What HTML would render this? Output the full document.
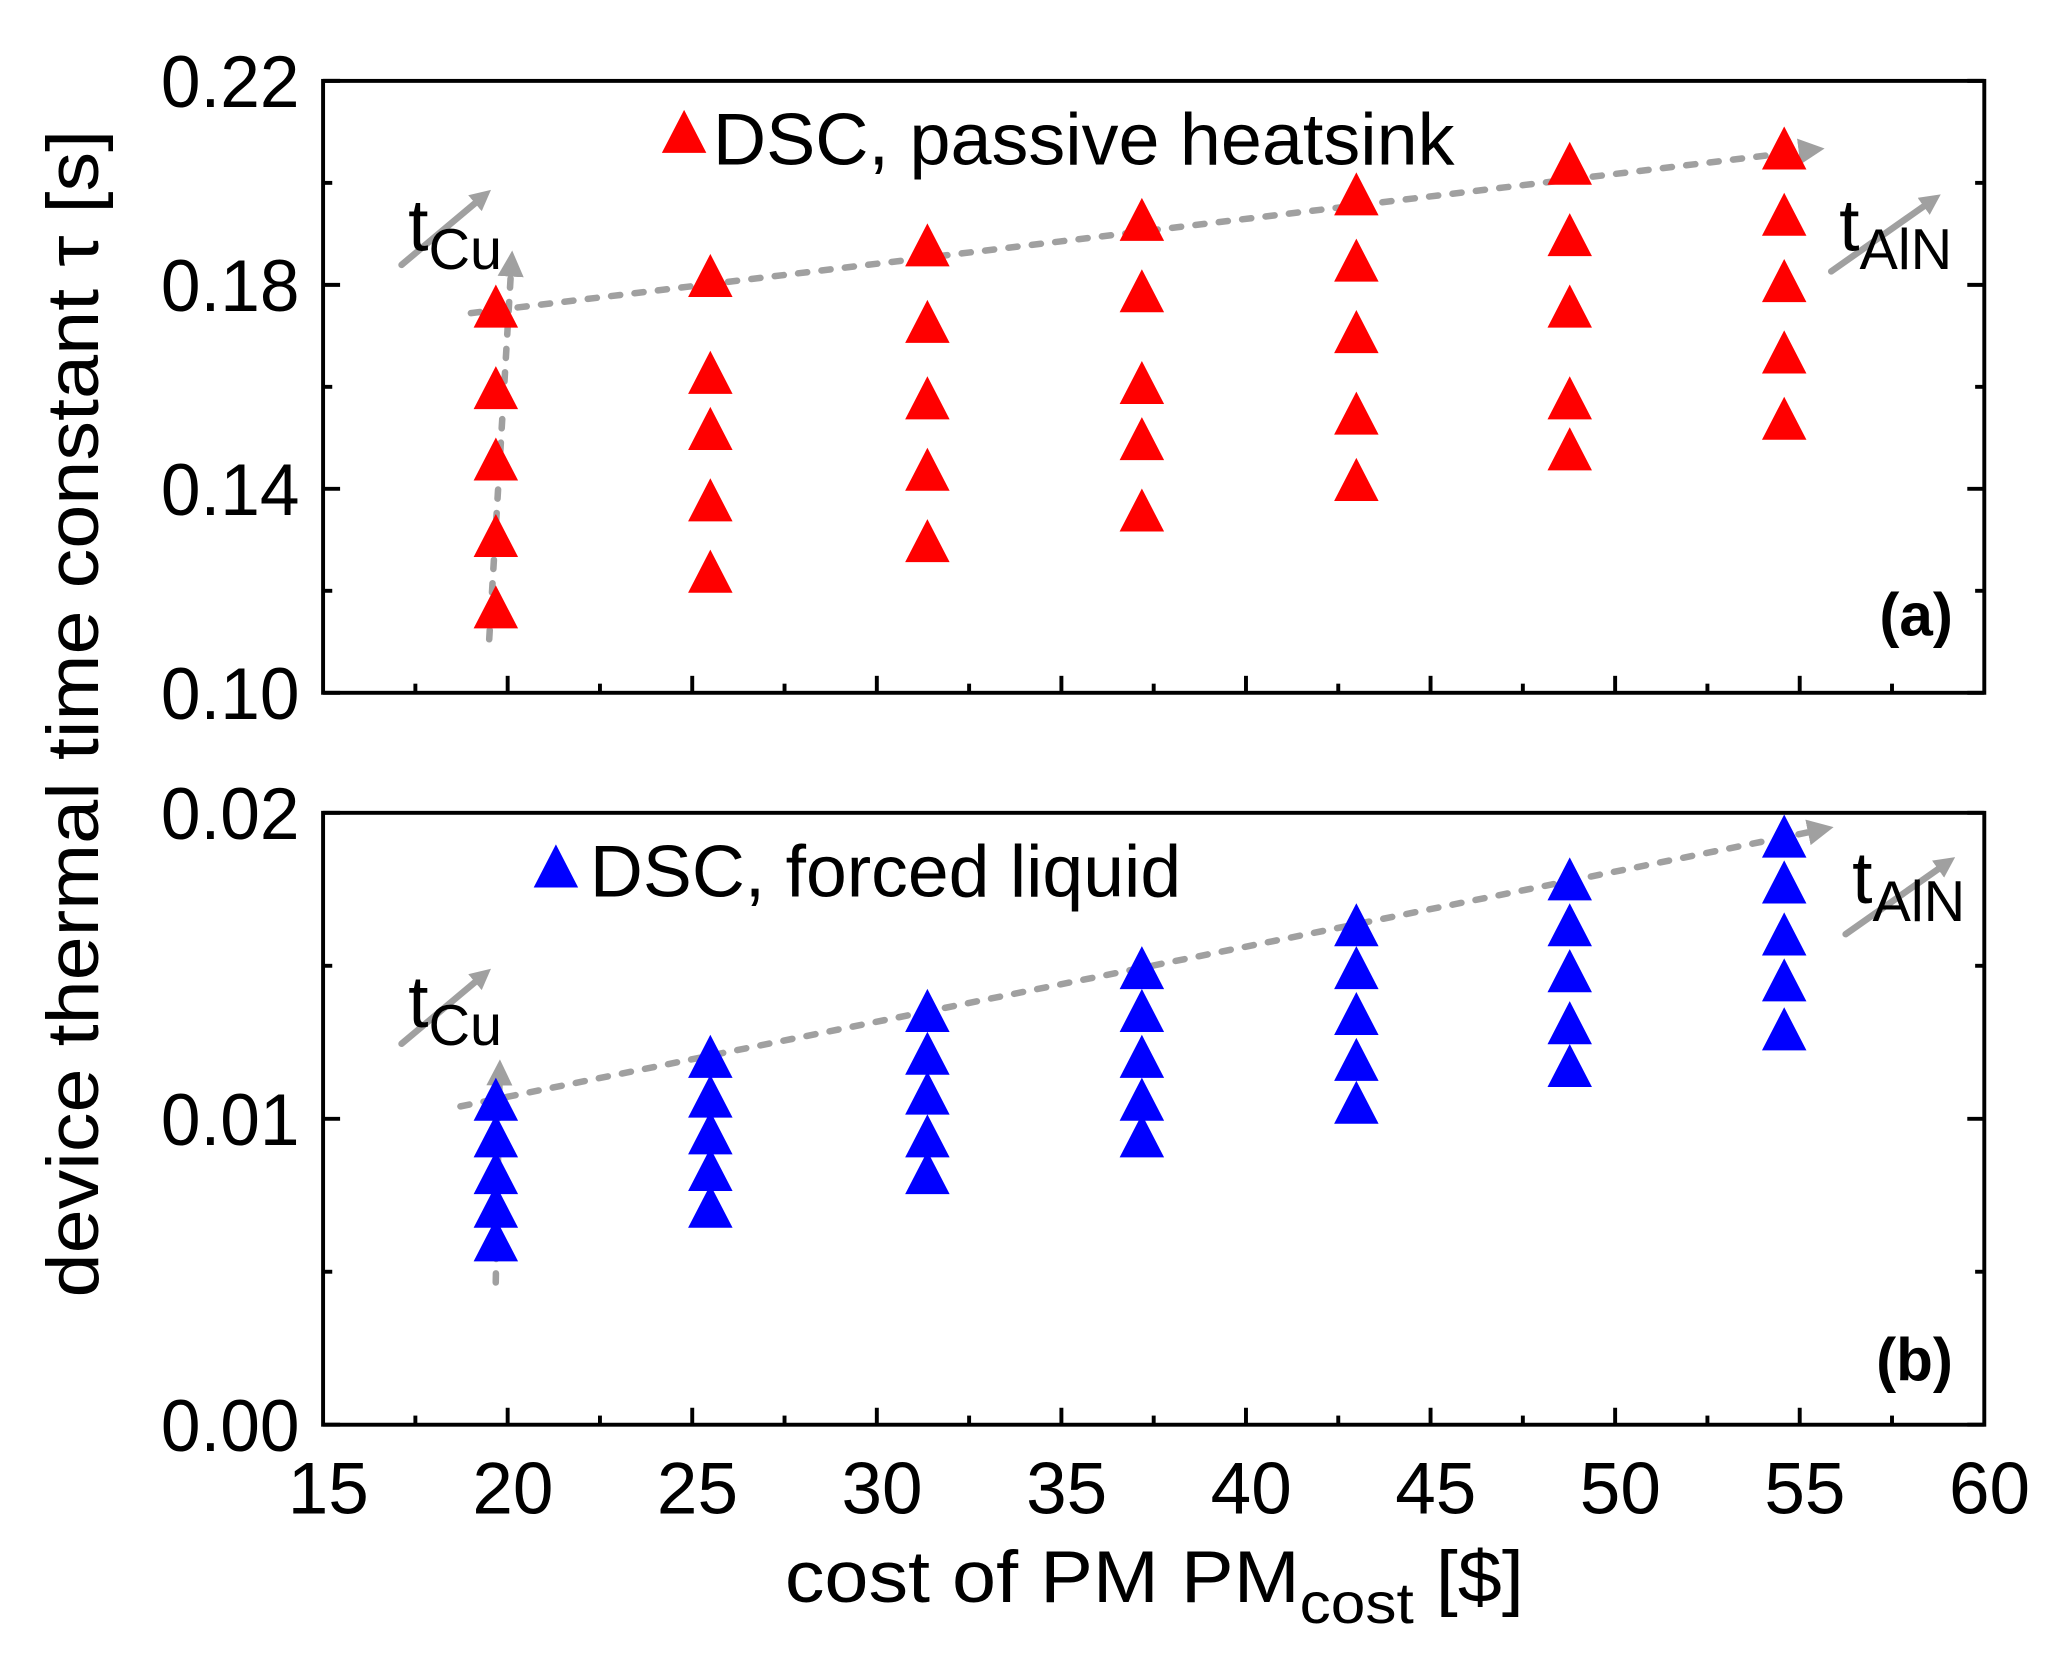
<!DOCTYPE html>
<html><head><meta charset="utf-8"><style>
html,body{margin:0;padding:0;background:#fff}
svg{display:block}
text{font-family:"Liberation Sans",sans-serif;fill:#000}
</style></head><body>
<svg id="chart" width="2051" height="1670" viewBox="0 0 1568 1280" preserveAspectRatio="none" xmlns="http://www.w3.org/2000/svg">
<defs>
<marker id="ah" markerWidth="4" markerHeight="4" refX="2" refY="2" orient="auto" markerUnits="strokeWidth"><path d="M0,0 L4,2 L0,4 z" fill="#a0a0a0"/></marker>
<marker id="ah2" markerWidth="3.2" markerHeight="3.2" refX="1.8" refY="1.6" orient="auto" markerUnits="strokeWidth"><path d="M0,0 L3.2,1.6 L0,3.2 z" fill="#a0a0a0"/></marker>
</defs>
<g id="root"></g>
</svg>
<script>
const xCols = [19.68, 25.49, 31.37, 37.18, 42.99, 48.77, 54.58];
const passiveVals = [
  [0.175,0.159,0.145,0.130,0.116],
  [0.181,0.162,0.151,0.137,0.123],
  [0.187,0.172,0.157,0.143,0.129],
  [0.192,0.178,0.160,0.149,0.135],
  [0.197,0.184,0.170,0.154,0.141],
  [0.203,0.189,0.175,0.157,0.147],
  [0.206,0.193,0.180,0.166,0.153]
];
const liquidVals = [
  [0.0105,0.0093,0.0081,0.0070,0.0059],
  [0.0119,0.0106,0.0094,0.0082,0.0070],
  [0.0134,0.0120,0.0107,0.0093,0.0081],
  [0.0148,0.0134,0.0119,0.0105,0.0093],
  [0.0162,0.0148,0.0133,0.0118,0.0104],
  [0.0177,0.0162,0.0147,0.0130,0.0116],
  [0.0191,0.0176,0.0159,0.0144,0.0128]
];
const xTicks = [15,20,25,30,35,40,45,50,55,60];
const yTicksTop = ["0.10","0.14","0.18","0.22"];
const yTicksBot = ["0.00","0.01","0.02"];

const NS="http://www.w3.org/2000/svg";
const root=document.getElementById('root');
const L=247,R=1517;
const sx=v=>L+(v-15)/45*(R-L);
const topT=62,topB=531,botT=623,botB=1092;
const syTop=v=>topB-(v-0.10)/0.12*(topB-topT);
const syBot=v=>botB-(v)/0.02*(botB-botT);
function mk(tag,attrs,parent){const e=document.createElementNS(NS,tag);for(const k in attrs)e.setAttribute(k,attrs[k]);(parent||root).appendChild(e);return e;}

function panel(name,T,B,sy,ticks,minors){
  const g=mk('g',{});
  
  
  const fr=mk('rect',{x:L,y:T,width:R-L,height:B-T,fill:'none',stroke:'#000','stroke-width':3},g);
  
  
  ticks.forEach(t=>{const y=sy(parseFloat(t));
    mk('line',{x1:L,x2:L+13,y1:y,y2:y,stroke:'#000','stroke-width':3},g);
    mk('line',{x1:R,x2:R-13,y1:y,y2:y,stroke:'#000','stroke-width':3},g);
    const tx=mk('text',{x:L-18,y:y+20,'text-anchor':'end','font-size':56,textLength:106,lengthAdjust:'spacingAndGlyphs'},g);
    tx.textContent=t;
    
    
  });
  minors.forEach(v=>{const y=sy(v);
    mk('line',{x1:L,x2:L+7,y1:y,y2:y,stroke:'#000','stroke-width':3},g);
    mk('line',{x1:R,x2:R-7,y1:y,y2:y,stroke:'#000','stroke-width':3},g);
  });
  for(let v=17.5;v<60;v+=2.5){const x=sx(v);const maj=(v%5===0);
    mk('line',{x1:x,x2:x,y1:B,y2:B-(maj?13:7),stroke:'#000','stroke-width':3},g);}
  return g;
}
panel('panel-a-passive',topT,topB,syTop,yTicksTop,[0.12,0.16,0.20]);
panel('panel-b-liquid',botT,botB,syBot,yTicksBot,[0.005,0.015]);
xTicks.forEach(t=>{const tx=mk('text',{x:sx(t)+4,y:1160,'text-anchor':'middle','font-size':56,textLength:62,lengthAdjust:'spacingAndGlyphs'});
  tx.textContent=t;
  
  });

function line(x1,y1,x2,y2,dash,name,w,mkr){const l=mk('line',{x1,y1,x2,y2,stroke:'#a0a0a0','stroke-width':w,'stroke-linecap':'round','marker-end':'url(#'+mkr+')'});
  if(dash)l.setAttribute('stroke-dasharray',dash);
  
  }
line(360,240,1385,115,'7 11','trend-arrow-a',5,'ah');
line(374,490,391,202,'7 11','cu-arrow-a',5,'ah');
line(352,848,1392,636,'7 11','trend-arrow-b',5,'ah');
line(379,983,382,822,'7 11','cu-arrow-b',5,'ah');
line(307,203,370,150,null,'tcu-arrow-a',5,'ah2');
line(1400,208,1478,153,null,'taln-arrow-a',5,'ah2');
line(307,800,370,747,null,'tcu-arrow-b',5,'ah2');
line(1411,716,1489,661,null,'taln-arrow-b',5,'ah2');

function tri(cx,cy,color,name){const h=33,w=34;
  const p=mk('polygon',{points:`${cx},${cy-h*0.6} ${cx-w/2},${cy+h*0.4} ${cx+w/2},${cy+h*0.4}`,fill:color});
  
  }
xCols.forEach((x,i)=>{passiveVals[i].forEach(v=>tri(sx(x),syTop(v),'#ff0000','passive-point'));
  liquidVals[i].forEach(v=>tri(sx(x),syBot(v),'#0000ff','liquid-point'));});

function txt(s,x,y,size,name,extra){const t=mk('text',Object.assign({x,y,'font-size':size},extra||{}));t.innerHTML=s;
  
  return t;}
tri(523,104,'#ff0000','legend-marker-passive');
txt('DSC, passive heatsink',545,126,56,'legend-passive',{textLength:567,lengthAdjust:'spacingAndGlyphs'});
tri(425,667,'#0000ff','legend-marker-liquid');
txt('DSC, forced liquid',451,687,56,'legend-liquid',{textLength:452,lengthAdjust:'spacingAndGlyphs'});
txt('t<tspan font-size="44" dy="14">Cu</tspan>',312,192,56,'tcu-label-a');
txt('t<tspan font-size="44" dy="14">AlN</tspan>',1406,192,56,'taln-label-a');
txt('t<tspan font-size="44" dy="14">Cu</tspan>',312,787,56,'tcu-label-b');
txt('t<tspan font-size="44" dy="14">AlN</tspan>',1416,692,56,'taln-label-b');
txt('(a)',1493,487,46,'panel-label-a',{'text-anchor':'end','font-weight':'bold'});
txt('(b)',1493,1058,46,'panel-label-b',{'text-anchor':'end','font-weight':'bold'});
txt('cost of PM PM<tspan font-size="44" dy="16">cost</tspan><tspan dy="-16"> [$]</tspan>',600,1228,56,'x-axis-title',{textLength:565,lengthAdjust:'spacingAndGlyphs'});
txt('device thermal time constant &#964; [s]',0,0,56,'y-axis-title',{'text-anchor':'middle',textLength:895,lengthAdjust:'spacingAndGlyphs',transform:'translate(75,547) rotate(-90)'});
</script>
</body></html>
